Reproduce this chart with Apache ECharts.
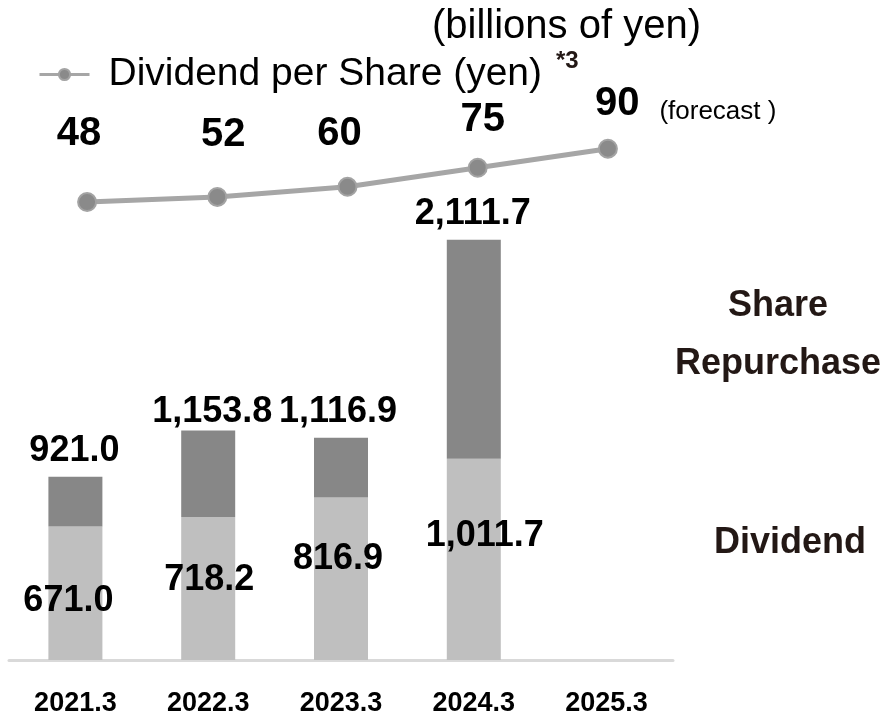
<!DOCTYPE html>
<html>
<head>
<meta charset="utf-8">
<script src="https://cdn.jsdelivr.net/npm/echarts@6/dist/echarts.min.js"></script>
<style>
  html, body { margin: 0; padding: 0; background: #fff; }
  #chart { width: 888px; height: 717px; }
</style>
</head>
<body>
<div id="chart"></div>
<script>
// data
const categories = ['2021.3', '2022.3', '2023.3', '2024.3', '2025.3']
const dividendValues = [671.0, 718.2, 816.9, 1011.7, '-']
const repurchaseValues = [250.0, 435.6, 300.0, 1100.0, '-']
const totalValues = [921.0, 1153.8, 1116.9, 2111.7, null]
const dpsValues = [48, 52, 60, 75, 90]

// label nudges (style only)
const dividendLabelOffsets = [[-7, 8], [1, -8], [-3, -20], [11, -23]]
const totalLabelOffsets = [[-1, 0], [4, 8], [-3, 0], [-1, 0]]
const dpsLabelOffsets = [[-8, -68], [6, -62], [-8, -53], [5, -48], [-13, -45]]

const FONT = "'Liberation Sans', Arial, sans-serif"

const fmt = (v) => v.toLocaleString('en-US', { minimumFractionDigits: 1, maximumFractionDigits: 1 })

const chart = echarts.init(document.getElementById('chart'))

let option = {
  backgroundColor: '#fff',
  animation: false,
  title: {
    text: '(billions of yen)',
    left: 427,
    top: 2,
    textStyle: { fontFamily: FONT, fontWeight: 'normal', fontSize: 40, color: '#000' }
  },
  legend: {
    left: 33,
    top: 50,
    itemWidth: 50,
    itemHeight: 14,
    data: ['Dividend per Share (yen)'],
    lineStyle: { width: 3, color: '#a6a6a6' },
    textStyle: { fontFamily: FONT, fontSize: 39, color: '#000', padding: [0, 0, 0, 14] }
  },
  grid: [
    // bars
    { left: 9, width: 664, top: 63, bottom: 54 },
    // dividend per share line
    { left: 22, width: 651, top: 136, bottom: 454 }
  ],
  xAxis: [
    {
      type: 'category',
      gridIndex: 0,
      data: categories,
      axisLine: { lineStyle: { color: '#d9d9d9', width: 3 } },
      axisTick: { show: false },
      axisLabel: {
        interval: 0,
        margin: 30,
        fontFamily: FONT,
        fontWeight: 'bold',
        fontSize: 27,
        color: '#000'
      }
    },
    {
      type: 'category',
      gridIndex: 1,
      data: categories,
      show: false
    }
  ],
  yAxis: [
    { type: 'value', gridIndex: 0, min: 0, max: 3000, show: false, splitLine: { show: false } },
    { type: 'value', gridIndex: 1, min: 0, max: 100, show: false, splitLine: { show: false } }
  ],
  graphic: [
    {
      type: 'text',
      x: 556,
      y: 61,
      style: {
        text: '*3',
        font: 'bold 24px ' + FONT,
        fill: '#231815',
        textAlign: 'left',
        textVerticalAlign: 'middle'
      }
    },
    {
      type: 'text',
      x: 778,
      y: 306,
      style: {
        text: 'Share',
        font: 'bold 36px ' + FONT,
        fill: '#231815',
        textAlign: 'center',
        textVerticalAlign: 'middle'
      }
    },
    {
      type: 'text',
      x: 778,
      y: 364,
      style: {
        text: 'Repurchase',
        font: 'bold 36px ' + FONT,
        fill: '#231815',
        textAlign: 'center',
        textVerticalAlign: 'middle'
      }
    },
    {
      type: 'text',
      x: 790,
      y: 543,
      style: {
        text: 'Dividend',
        font: 'bold 36px ' + FONT,
        fill: '#231815',
        textAlign: 'center',
        textVerticalAlign: 'middle'
      }
    }
  ],
  series: [
    {
      name: 'Dividend',
      type: 'bar',
      stack: 'return',
      xAxisIndex: 0,
      yAxisIndex: 0,
      barWidth: 54,
      itemStyle: { color: '#bfbfbf' },
      data: dividendValues.map((v, i) => ({
        value: v,
        label: { offset: dividendLabelOffsets[i] || [0, 0] }
      })),
      label: {
        show: true,
        position: 'inside',
        fontFamily: FONT,
        fontWeight: 'bold',
        fontSize: 36,
        color: '#000',
        formatter: (p) => fmt(dividendValues[p.dataIndex])
      }
    },
    {
      name: 'Share Repurchase',
      type: 'bar',
      stack: 'return',
      xAxisIndex: 0,
      yAxisIndex: 0,
      barWidth: 54,
      itemStyle: { color: '#878787' },
      data: repurchaseValues.map((v, i) => ({
        value: v,
        label: { offset: totalLabelOffsets[i] || [0, 0] }
      })),
      label: {
        show: true,
        position: 'top',
        distance: 8,
        fontFamily: FONT,
        fontWeight: 'bold',
        fontSize: 36,
        color: '#000',
        formatter: (p) => fmt(totalValues[p.dataIndex])
      }
    },
    {
      name: 'Dividend per Share (yen)',
      type: 'line',
      xAxisIndex: 1,
      yAxisIndex: 1,
      symbol: 'circle',
      symbolSize: 18,
      lineStyle: { color: '#a6a6a6', width: 5 },
      itemStyle: { color: '#8a8a8a', borderColor: '#a3a3a3', borderWidth: 2 },
      data: dpsValues.map((v, i) => {
        const last = i === dpsValues.length - 1
        return {
          value: v,
          label: last
            ? { offset: dpsLabelOffsets[i], align: 'left', formatter: '{n|{c}}{f|(forecast )}' }
            : { offset: dpsLabelOffsets[i] }
        }
      }),
      label: {
        show: true,
        position: 'inside',
        fontFamily: FONT,
        fontWeight: 'bold',
        fontSize: 40,
        color: '#000',
        rich: {
          n: { fontFamily: FONT, fontWeight: 'bold', fontSize: 40, color: '#000', padding: [0, 20, 0, 0] },
          f: { fontFamily: FONT, fontWeight: 'normal', fontSize: 26, color: '#000', padding: [16, 0, 0, 0] }
        }
      }
    }
  ]
}

chart.setOption(option)
</script>
</body>
</html>
